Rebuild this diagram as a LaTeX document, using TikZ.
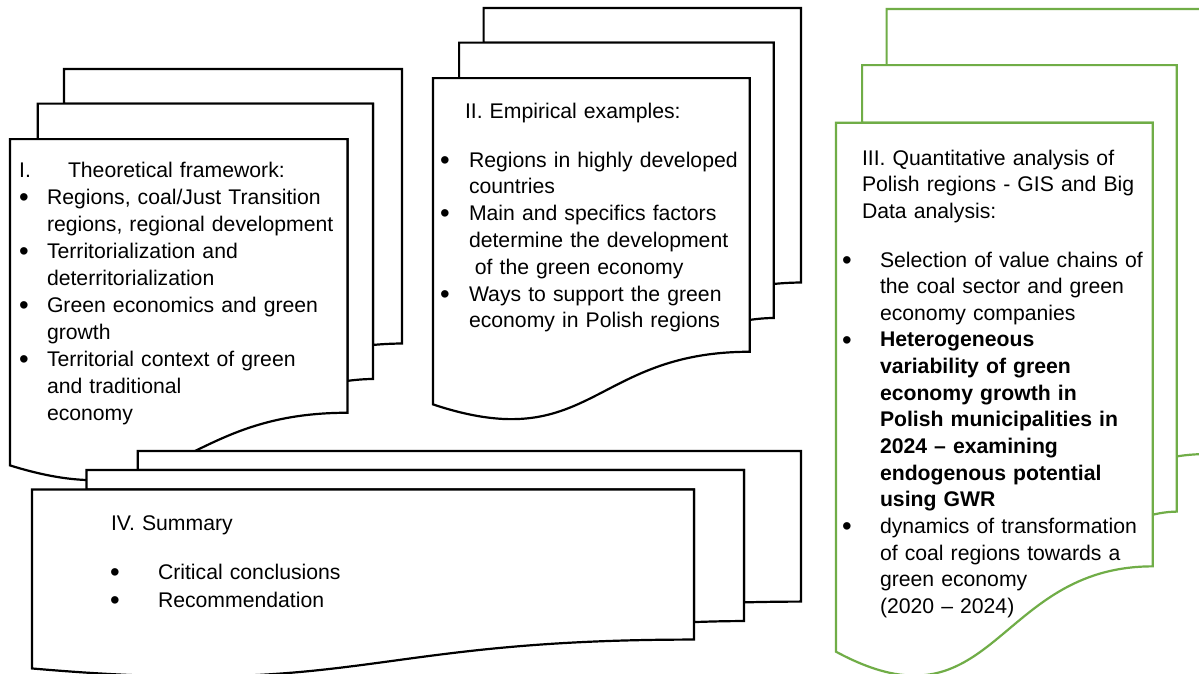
\documentclass[tikz,border=0pt]{standalone}
\usepackage{fontspec}
\setmainfont{Liberation Sans}
\definecolor{leafgreen}{HTML}{70AD47}

% enlarged bullet sitting on the text's baseline
\newcommand\bul{\raisebox{-2.2pt}{\scalebox{1.3}{\textbullet}}}
\newcommand\itm[1]{\makebox[#1][l]{\bul}}
\newcommand\ind[1]{\hspace*{#1}}

% a stack of three sheets (multi-document symbol)
% #1 left, #2 top, #3 width, #4 height, #5 outline colour
\newcommand\docstack[5]{%
  \begin{scope}[shift={(#1,#2)}, x=#3pt, y=-#4pt]
    % back sheet
    \filldraw[sheet, draw=#5] (0.13759,0.08403) -- (0.13759,0) -- (1,0) -- (1,0.66630)
      .. controls (0.96296,0.66630) and (0.92593,0.66977) .. (0.92593,0.66977)
      -- (0.92593,0.08403) -- cycle;
    % middle sheet
    \filldraw[sheet, draw=#5] (0.07093,0.17014) -- (0.07093,0.08403) -- (0.92593,0.08403) -- (0.92593,0.75241)
      .. controls (0.89343,0.75241) and (0.86088,0.75704) .. (0.86088,0.75704)
      -- (0.86088,0.17014) -- cycle;
    % front sheet with wavy lower edge
    \filldraw[sheet, draw=#5] (0,0.96213)
      .. controls (0.43046,1.08991) and (0.43046,0.83435) .. (0.86088,0.83435)
      -- (0.86088,0.17014) -- (0,0.17014) -- cycle;
  \end{scope}}

\tikzset{
  sheet/.style={line width=2.2pt, fill=white, line join=miter},
  txt/.style={anchor=base west, inner sep=0pt, outer sep=0pt, align=left,
              text width=430pt, font=\fontsize{21.2}{27.1}\selectfont},
}

\begin{document}
\begin{tikzpicture}[x=1pt, y=-1pt]
  \useasboundingbox (0,0) rectangle (1199,673);
  \clip (0,0) rectangle (1199,673);
  \fill[white] (0,0) rectangle (1199,673);

  % ---- I. Theoretical framework
  \docstack{10}{69}{392}{412}{black}
  \node[txt] (theory) at (19.2,177) {%
    \makebox[48.8pt][l]{I.}Theoretical framework:\\
    \itm{27.8pt}Regions, coal/Just Transition\\
    \ind{27.8pt}regions, regional development\\
    \itm{27.8pt}Territorialization and\\
    \ind{27.8pt}deterritorialization\\
    \itm{27.8pt}Green economics and green\\
    \ind{27.8pt}growth\\
    \itm{27.8pt}Territorial context of green\\
    \ind{27.8pt}and traditional\\
    \ind{27.8pt}economy};

  % ---- II. Empirical examples
  \docstack{433}{8}{368}{412}{black}
  \node[txt] (empTitle) at (465,118) {II. Empirical examples:};
  \node[txt, font=\fontsize{21.2}{26.8}\selectfont] (empList) at (440.2,167) {%
    \itm{28.8pt}Regions in highly developed\\
    \ind{28.8pt}countries\\
    \itm{28.8pt}Main and specifics factors\\
    \ind{28.8pt}determine the development\\
    \ind{34.7pt}of the green economy\\
    \itm{28.8pt}Ways to support the green\\
    \ind{28.8pt}economy in Polish regions};

  % ---- III. Quantitative analysis
  \docstack{836}{9}{368}{668}{leafgreen}
  \node[txt, font=\fontsize{21.2}{26.5}\selectfont] (quantTitle) at (862,165) {%
    III. Quantitative analysis of\\
    Polish regions - GIS and Big\\
    Data analysis:};
  \node[txt, font=\fontsize{21.2}{26.65}\selectfont] (quantList) at (842.2,267) {%
    \itm{37.8pt}Selection of value chains of\\
    \ind{37.8pt}the coal sector and green\\
    \ind{37.8pt}economy companies\\
    \itm{37.8pt}\textbf{Heterogeneous}\\
    \ind{37.8pt}\textbf{variability of green}\\
    \ind{37.8pt}\textbf{economy growth in}\\
    \ind{37.8pt}\textbf{Polish municipalities in}\\
    \ind{37.8pt}\textbf{2024 – examining}\\
    \ind{37.8pt}\textbf{endogenous potential}\\
    \ind{37.8pt}\textbf{using GWR}\\
    \itm{37.8pt}dynamics of transformation\\
    \ind{37.8pt}of coal regions towards a\\
    \ind{37.8pt}green economy\\
    \ind{37.8pt}(2020 – 2024)};

  % ---- IV. Summary
  \docstack{32}{451}{769}{226}{black}
  \node[txt] (sumTitle) at (111,530) {IV. Summary};
  \node[txt, font=\fontsize{21.2}{28}\selectfont] (sumList) at (110.2,579) {%
    \itm{47.8pt}Critical conclusions\\
    \itm{47.8pt}Recommendation};
\end{tikzpicture}
\end{document}
